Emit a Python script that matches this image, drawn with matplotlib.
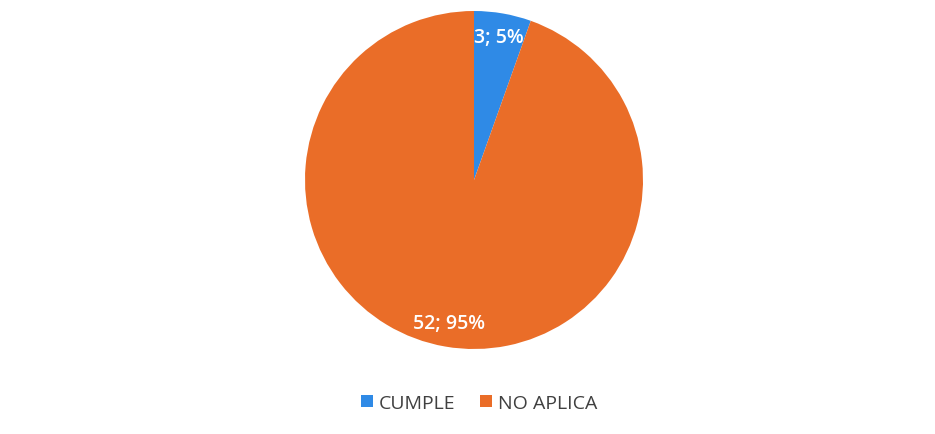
import matplotlib.pyplot as plt
from matplotlib.patches import Patch

categories = ['CUMPLE', 'NO APLICA']
values = [3, 52]
colors = ['#2F8AE6', '#EA6D28']

plt.rcParams['font.family'] = ['Open Sans', 'DejaVu Sans']

fig = plt.figure(figsize=(9.35, 4.35), dpi=100)
cx, cy, r = 474, 181, 169
ax = fig.add_axes([(cx - r) / 935, (435 - cy - r) / 435, 2 * r / 935, 2 * r / 435])

total = sum(values)


def fmt(pct):
    n = int(round(pct * total / 100))
    return f'{n}; {round(pct):.0f}%'


wedges, texts, autotexts = ax.pie(values, colors=colors, startangle=90, counterclock=False,
                                  autopct=fmt, pctdistance=0.86,
                                  wedgeprops=dict(linewidth=0),
                                  textprops=dict(color='white', fontsize=14, fontweight='semibold'))
ax.set_xlim(-1, 1)
ax.set_ylim(-1, 1)
ax.set_aspect('equal')

handles = [Patch(facecolor=c, label=l) for c, l in zip(colors, categories)]
fig.legend(handles=handles, loc='center', bbox_to_anchor=(479 / 935, 1 - 404 / 435), ncol=2,
           frameon=False, fontsize=14, handlelength=0.6, handleheight=0.6, handletextpad=0.3,
           columnspacing=1.3, labelcolor='#404040')

fig.savefig('out.png', dpi=100)
